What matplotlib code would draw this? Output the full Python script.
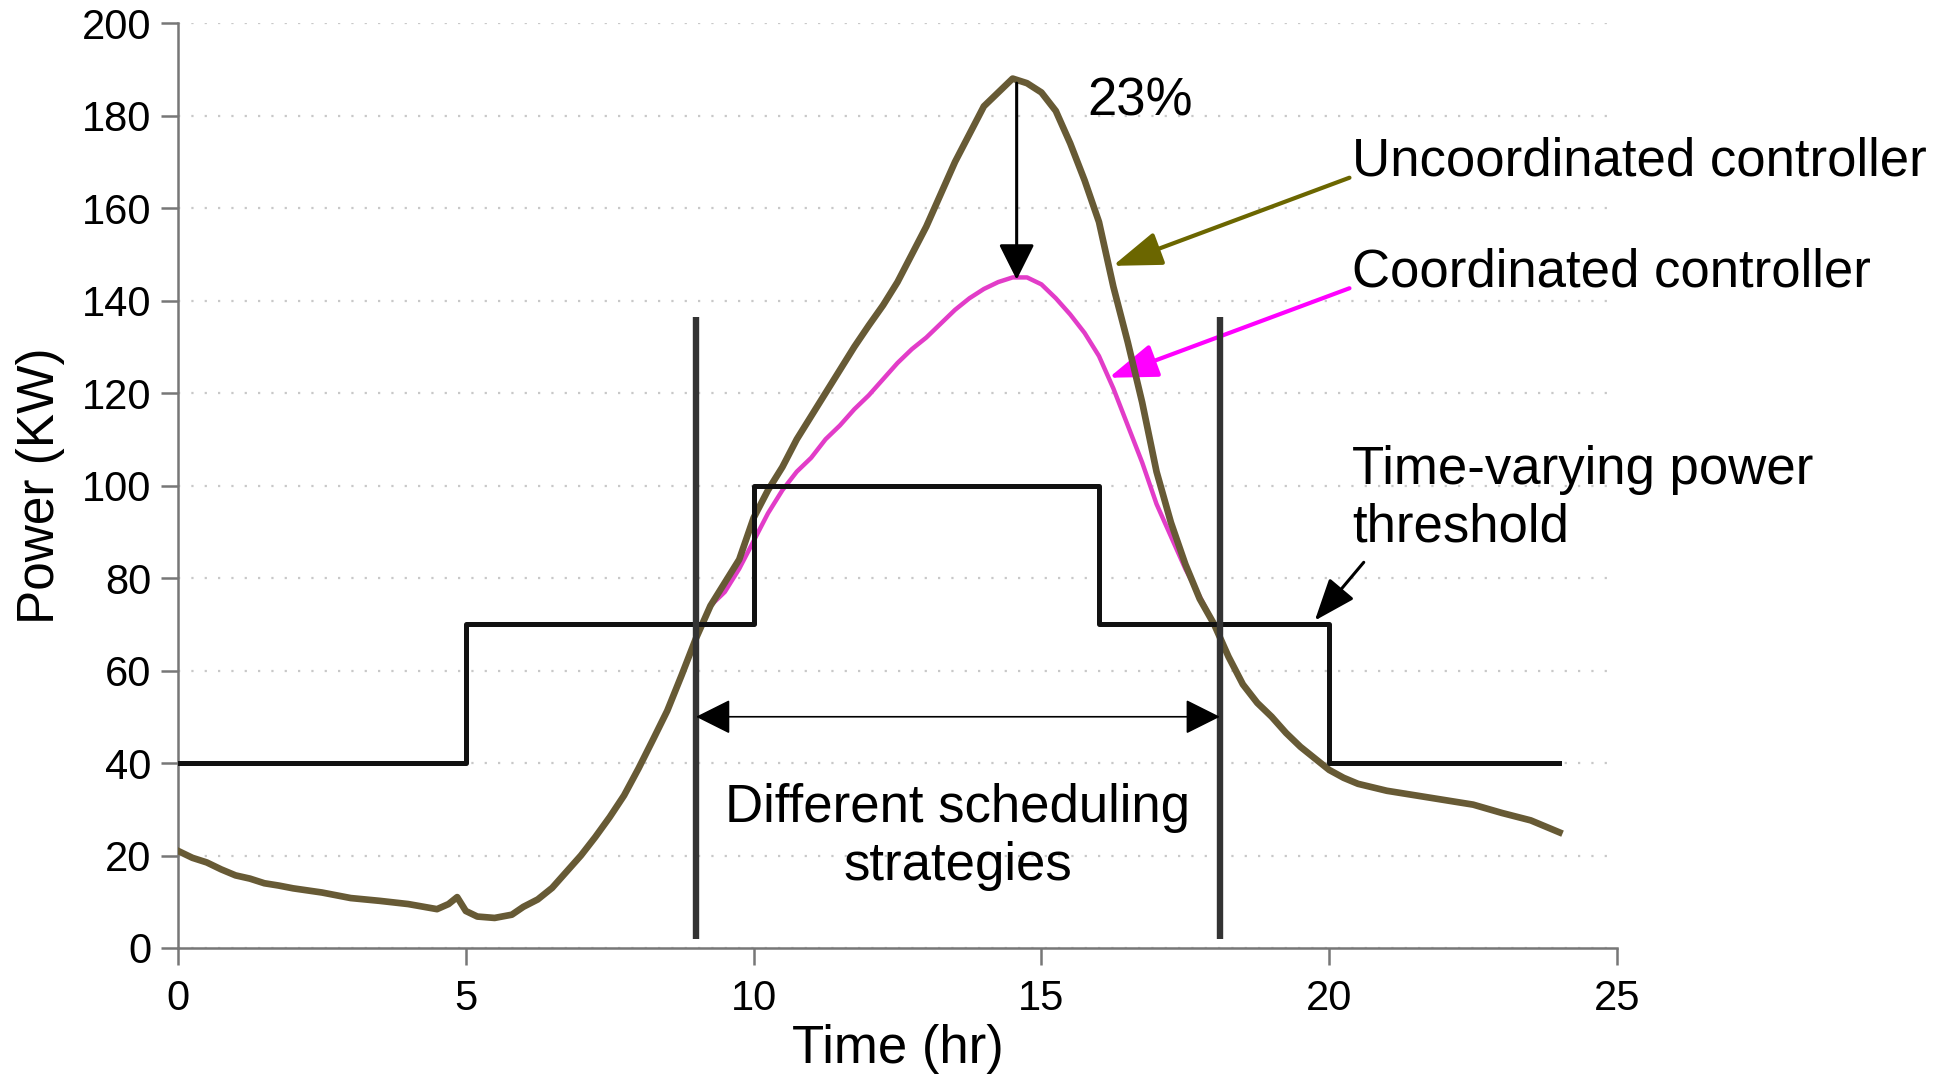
import matplotlib
matplotlib.use('Agg')
import matplotlib.pyplot as plt

plt.rcParams['font.family'] = ['Liberation Sans', 'DejaVu Sans']

# time (hr) and power (KW)
t_unc = [0, 0.25, 0.5, 0.75, 1, 1.25, 1.5, 1.75, 2, 2.5, 3, 3.5, 4, 4.5, 4.7, 4.85,
         5.0, 5.2, 5.5, 5.8, 6.0, 6.25, 6.5, 6.75, 7, 7.25, 7.5, 7.75, 8, 8.25, 8.5,
         8.75, 9, 9.25, 9.5, 9.75, 10, 10.25, 10.5, 10.75, 11, 11.25, 11.5, 11.75,
         12, 12.25, 12.5, 12.75, 13, 13.25, 13.5, 13.75, 14, 14.25, 14.5, 14.75, 15,
         15.25, 15.5, 15.75, 16, 16.25, 16.5, 16.75, 17, 17.25, 17.5, 17.75, 18,
         18.25, 18.5, 18.75, 19, 19.25, 19.5, 19.75, 20, 20.25, 20.5, 21, 21.5, 22,
         22.5, 23, 23.5, 24]
p_unc = [21, 19.5, 18.5, 17, 15.7, 15, 14, 13.5, 12.9, 12, 10.8, 10.2, 9.5, 8.4, 9.5, 11,
         8, 6.8, 6.5, 7.2, 8.9, 10.5, 13, 16.5, 20, 24, 28.3, 33, 38.8, 45, 51.3,
         59, 67, 74, 79, 84, 93, 99, 104, 110, 115, 120, 125, 130,
         134.6, 139, 144, 150, 156, 163, 170, 176, 182, 185, 188, 187, 185,
         181, 174, 166, 157, 143, 131, 118, 103, 92, 83, 75.5, 70,
         63, 57, 53, 50, 46.5, 43.5, 41, 38.5, 36.8, 35.5, 34, 33, 32,
         31, 29.2, 27.6, 25]

# coordinated controller departs from the uncoordinated one between 9.5 and 17.75 hr
t_coord_mid = [9.5, 9.75, 10, 10.25, 10.5, 10.75, 11, 11.25, 11.5, 11.75, 12, 12.25,
               12.5, 12.75, 13, 13.25, 13.5, 13.75, 14, 14.25, 14.5, 14.75, 15, 15.25,
               15.5, 15.75, 16, 16.25, 16.5, 16.75, 17, 17.25, 17.5, 17.75]
p_coord_mid = [77, 82, 88, 94, 99, 103, 106, 110, 113, 116.5, 119.5, 123,
               126.5, 129.5, 132, 135, 138, 140.5, 142.5, 144, 145, 145, 143.5, 140.5,
               137, 133, 128, 121, 113, 105, 96, 89, 82, 76]
i0 = t_unc.index(9.5)
i1 = t_unc.index(18)
t_coord = t_unc[:i0] + t_coord_mid + t_unc[i1:]
p_coord = p_unc[:i0] + p_coord_mid + p_unc[i1:]

# time-varying power threshold
thr_t = [0, 5, 10, 16, 20, 24]
thr_p = [40, 70, 100, 70, 40, 40]

# window of different scheduling strategies
win_start, win_end = 9, 18.1

fig = plt.figure(figsize=(19.56, 10.78), dpi=100)
ax = fig.add_axes([0.091, 0.1206, 0.7357, 0.858])

ax.plot(t_coord, p_coord, color='#e23cc8', lw=3.2, zorder=3)
ax.plot(t_unc, p_unc, color='#675a35', lw=4.8, zorder=4)
ax.plot(thr_t, thr_p, color='#111111', lw=3.6, drawstyle='steps-post', zorder=5)
ax.vlines([win_start, win_end], 2, 136.5, color='#333333', lw=4.6, zorder=6)

ax.set_xlim(0, 25)
ax.set_ylim(0, 200)
ax.set_xticks([0, 5, 10, 15, 20, 25])
ax.set_yticks(range(0, 201, 20))
ax.grid(axis='y', color='#c8c8c8', linestyle=(0, (1, 5)), lw=1.6)
ax.set_axisbelow(True)
for s in ['top', 'right']:
    ax.spines[s].set_visible(False)
for s in ['left', 'bottom']:
    ax.spines[s].set_color('#777777')
    ax.spines[s].set_linewidth(1.8)
ax.tick_params(colors='#777777', labelcolor='black', labelsize=30, length=12, width=1.8)
ax.tick_params(axis='y', pad=7)
ax.tick_params(axis='x', pad=10)
ax.set_xlabel('Time (hr)', fontsize=38, labelpad=4)
ax.set_ylabel('Power (KW)', fontsize=37, labelpad=12)

# peak reduction arrow
ax.annotate('', xy=(14.57, 144.5), xytext=(14.57, 187),
            arrowprops=dict(arrowstyle='-|>,head_length=22,head_width=11',
                            mutation_scale=1, color='black', lw=2.2, shrinkA=0, shrinkB=0),
            zorder=7)
ax.text(15.8, 183, '23%', fontsize=38, va='center', ha='left')

# double arrow between the two vertical lines
ax.annotate('', xy=(win_start, 50), xytext=(win_end, 50),
            arrowprops=dict(arrowstyle='<|-|>,head_length=22,head_width=11',
                            mutation_scale=1, color='black', lw=1.2, shrinkA=0, shrinkB=0),
            zorder=7)
ax.text(13.55, 14.8, 'Different scheduling\nstrategies', fontsize=38, ha='center',
        va='baseline', linespacing=1.2)

# labels with pointers
ax.annotate('Uncoordinated controller', xy=(16.24, 147.5), xytext=(20.4, 167),
            fontsize=38, va='baseline', ha='left', annotation_clip=False,
            arrowprops=dict(arrowstyle='-|>,head_length=30,head_width=10.5',
                            mutation_scale=1, color='#6b6600', lw=3,
                            shrinkA=0, shrinkB=0, relpos=(0, 0.2)))
ax.annotate('Coordinated controller', xy=(16.17, 123.3), xytext=(20.4, 143.1),
            fontsize=38, va='baseline', ha='left', annotation_clip=False,
            arrowprops=dict(arrowstyle='-|>,head_length=30,head_width=10.5',
                            mutation_scale=1, color='#ff00ff', lw=3,
                            shrinkA=0, shrinkB=0, relpos=(0, 0.2)))
ax.annotate('', xy=(19.75, 70.8), xytext=(20.6, 83.4),
            arrowprops=dict(arrowstyle='-|>,head_length=26,head_width=10',
                            mutation_scale=1, color='black', lw=2.2, shrinkA=0, shrinkB=0))
ax.text(20.4, 87.8, 'Time-varying power\nthreshold', fontsize=38, ha='left',
        va='baseline', linespacing=1.2, clip_on=False)

fig.savefig('out.png', dpi=100)
